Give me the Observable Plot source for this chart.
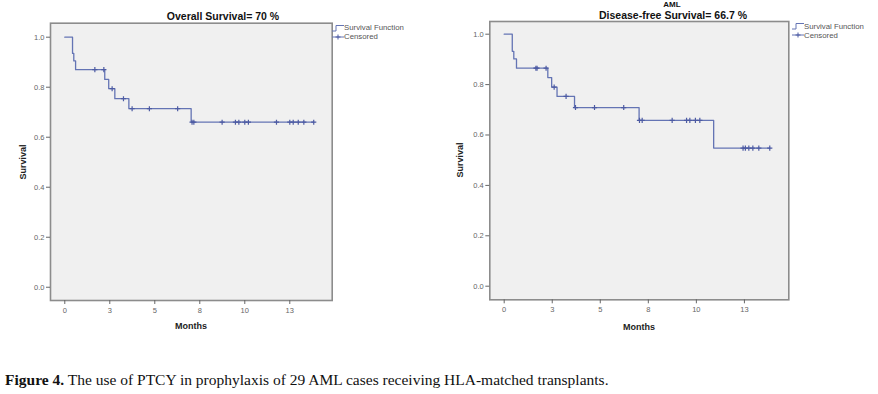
<!DOCTYPE html>
<html>
<head>
<meta charset="utf-8">
<script src="https://cdn.jsdelivr.net/npm/d3@7"></script>
<script src="https://cdn.jsdelivr.net/npm/@observablehq/plot@0.6"></script>
<style>
  html, body { margin: 0; padding: 0; background: #fff; }
  #wrap { position: relative; width: 878px; height: 394px; overflow: hidden; font-family: "Liberation Sans", Arial, sans-serif; }
  .abs { position: absolute; white-space: nowrap; }
  .title { font-weight: bold; font-size: 10.5px; color: #111; transform: translate(-50%, -50%); line-height: 11px; }
  .small { font-size: 8px; line-height: 7px; }
  .axlab { font-weight: bold; font-size: 9px; color: #222; transform: translate(-50%, -50%); }
  .rot { transform: translate(-50%, -50%) rotate(-90deg); }
  .legend { font-size: 7.8px; color: #555; line-height: 9px; }
  .legend svg { vertical-align: middle; }
  #caption { left: 5px; top: 371px; font-family: "Liberation Serif", "Times New Roman", serif; font-size: 15.5px; color: #111; }
</style>
</head>
<body>
<div id="wrap"></div>
<script>
// ---- data ----
const osEventTimes = [0, 0.43, 0.5, 0.6, 2.22, 2.44, 2.78, 3.56, 7.02];
const osSurvival   = [1, 0.935, 0.905, 0.87, 0.831, 0.794, 0.754, 0.714, 0.66];
const osCensorTimes = [1.67, 2.17, 2.63, 3.26, 3.74, 4.7, 6.27, 7.07, 7.17, 8.74, 9.48, 9.67, 10.0, 10.2, 11.76, 12.5, 12.69, 12.97, 13.28, 13.83];

const dfsEventTimes = [0, 0.42, 0.5, 0.64, 2.27, 2.47, 2.75, 3.66, 7.02, 10.9];
const dfsSurvival   = [1, 0.932, 0.902, 0.865, 0.828, 0.79, 0.753, 0.709, 0.658, 0.548];
const dfsCensorTimes = [1.65, 1.71, 2.18, 2.6, 3.22, 3.71, 4.7, 6.22, 7.04, 7.18, 8.74, 9.49, 9.66, 9.95, 10.18, 12.43, 12.55, 12.73, 12.94, 13.25, 13.82];

const yTickValues = [0, 0.2, 0.4, 0.6, 0.8, 1.0];
const yTickLabels = ["0.0", "0.2", "0.4", "0.6", "0.8", "1.0"];
const xTickValues = [0, 2.5, 5, 7.5, 10, 12.5];
const xTickLabels = ["0", "3", "5", "8", "10", "13"];

const lineColor = "#6474b4";
const markColor = "#4d5ba3";

function stepLookup(times, surv, t) {
  let s = surv[0];
  for (let i = 0; i < times.length; i++) if (times[i] <= t) s = surv[i];
  return s;
}

function kmPlot(opts) {
  const {times, surv, censors, width, height, mL, mR, mT, mB, xDomain, yDomain} = opts;
  const lastT = censors[censors.length - 1];
  const linePts = times.map((t, i) => ({t, s: surv[i]}));
  linePts.push({t: lastT, s: surv[surv.length - 1]});
  const cens = censors.map(t => ({t, s: stepLookup(times, surv, t)}));
  return Plot.plot({
    width, height,
    marginLeft: mL, marginRight: mR, marginTop: mT, marginBottom: mB,
    style: {background: "transparent", fontFamily: "Liberation Sans, Arial, sans-serif"},
    x: {domain: xDomain},
    y: {domain: yDomain},
    marks: [
      Plot.frame({fill: "#f0f0f0", stroke: "#8c8c8c", strokeWidth: 1.6}),
      Plot.axisY(yTickValues, {tickSize: 4, tickPadding: 2, fontSize: 7.5, color: "#666",
        tickFormat: (d) => yTickLabels[yTickValues.indexOf(d)], label: null}),
      Plot.axisX(xTickValues, {tickSize: 4, tickPadding: 3, fontSize: 7.5, color: "#666",
        tickFormat: (d) => xTickLabels[xTickValues.indexOf(d)], label: null}),
      Plot.line(linePts, {x: "t", y: "s", curve: "step-after", stroke: lineColor, strokeWidth: 1.3}),
      Plot.dot(cens, {x: "t", y: "s", symbol: "plus", r: 1.8, stroke: markColor, strokeWidth: 1.2})
    ]
  });
}

const wrap = document.getElementById("wrap");

const left = kmPlot({times: osEventTimes, surv: osSurvival, censors: osCensorTimes,
  width: 440, height: 340, mL: 50, mR: 108.3, mT: 22.7, mB: 40,
  xDomain: [-0.794, 14.856], yDomain: [-0.053, 1.056]});
left.style.position = "absolute"; left.style.left = "0px"; left.style.top = "0px";
wrap.appendChild(left);

const right = kmPlot({times: dfsEventTimes, surv: dfsSurvival, censors: dfsCensorTimes,
  width: 438, height: 340, mL: 49.3, mR: 89.7, mT: 21, mB: 40.7,
  xDomain: [-0.749, 14.81], yDomain: [-0.054, 1.0504]});
right.style.position = "absolute"; right.style.left = "440px"; right.style.top = "0px";
wrap.appendChild(right);

function addText(cls, txt, x, y) {
  const d = document.createElement("div");
  d.className = "abs " + cls;
  d.style.left = x + "px"; d.style.top = y + "px";
  d.textContent = txt;
  wrap.appendChild(d);
  return d;
}

addText("title", "Overall Survival= 70 %", 223, 15.5);
addText("title small", "AML", 672, 3.5);
addText("title", "Disease-free Survival= 66.7 %", 673, 14.5);
addText("axlab rot", "Survival", 23, 162);
addText("axlab rot", "Survival", 460, 160);
addText("axlab", "Months", 191, 326);
addText("axlab", "Months", 639, 326.5);

function addLegend(x, y) {
  const d = document.createElement("div");
  d.className = "abs legend";
  d.style.left = x + "px"; d.style.top = y + "px";
  d.innerHTML =
    '<div><svg width="12" height="8"><path d="M0,7 H4 V1.5 H12" fill="none" stroke="' + lineColor + '" stroke-width="1"/></svg>Survival Function</div>' +
    '<div><svg width="12" height="8"><path d="M0,4 H12" stroke="' + lineColor + '" stroke-width="1"/><path d="M6,1.5 V6.5 M3.5,4 H8.5" stroke="' + markColor + '" stroke-width="1"/></svg>Censored</div>';
  wrap.appendChild(d);
}
addLegend(332, 23);
addLegend(792, 21.5);

const cap = document.createElement("div");
cap.id = "caption"; cap.className = "abs";
cap.innerHTML = "<b>Figure 4.</b> The use of PTCY in prophylaxis of 29 AML cases receiving HLA-matched transplants.";
wrap.appendChild(cap);
</script>
</body>
</html>
